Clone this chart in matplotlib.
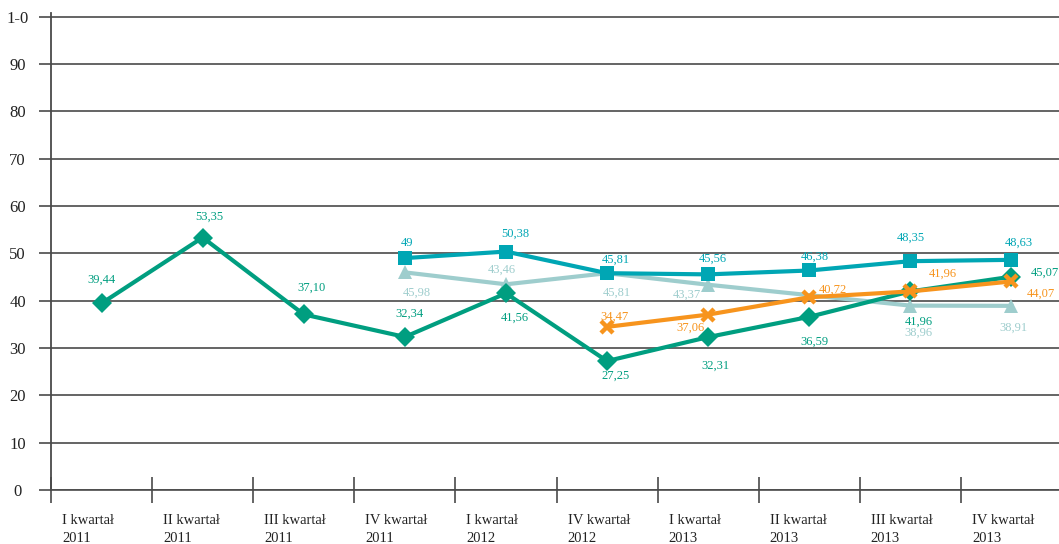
import numpy as np
import matplotlib
matplotlib.use("Agg")
import matplotlib.pyplot as plt
from matplotlib.transforms import ScaledTranslation

# ---- data ---------------------------------------------------------------- #
quarters = ["I kwartał\n2011", "II kwartał\n2011", "III kwartał\n2011",
            "IV kwartał\n2011", "I kwartał\n2012", "IV kwartał\n2012",
            "I kwartał\n2013", "II kwartał\n2013", "III kwartał\n2013",
            "IV kwartał\n2013"]
nan = np.nan
s_diamond  = [39.44, 53.35, 37.10, 32.34, 41.56, 27.25, 32.31, 36.59, 41.96, 45.07]
s_square   = [nan, nan, nan, 49.00, 50.38, 45.81, 45.56, 46.38, 48.35, 48.63]
s_triangle = [nan, nan, nan, 45.98, 43.46, 45.81, 43.37, nan, 38.96, 38.91]
s_cross    = [nan, nan, nan, nan, nan, 34.47, 37.06, 40.72, 41.96, 44.07]

lab_diamond  = ["39,44", "53,35", "37,10", "32,34", "41,56", "27,25", "32,31", "36,59", "41,96", "45,07"]
lab_square   = [None, None, None, "49", "50,38", "45,81", "45,56", "46,38", "48,35", "48,63"]
lab_triangle = [None, None, None, "45,98", "43,46", "45,81", "43,37", None, "38,96", "38,91"]
lab_cross    = [None, None, None, None, None, "34,47", "37,06", "40,72", "41,96", "44,07"]

# label offsets in pixels (dx, dy)
off_diamond  = [(0, 24), (7, 21), (8, 27), (5, 23), (9, -24), (9, -15), (7, -29), (5, -25), (8, -30), (33, 4)]
off_square   = [None, None, None, (2, 15), (9, 18), (9, 13), (5, 16), (6, 14), (0, 23), (7, 17)]
off_triangle = [None, None, None, (12, -20), (-4, 15), (10, -20), (-21, -10), None, (8, -27), (2, -22)]
off_cross    = [None, None, None, None, None, (7, 10), (-18, -13), (24, 8), (32, 18), (29, -12)]

C_GREEN  = "#009E80"
C_TEAL   = "#00A6B4"
C_LIGHT  = "#9ECDCD"
C_ORANGE = "#F7941D"
GRID = "#4a4a4a"

plt.rcParams["font.family"] = ["Liberation Serif", "DejaVu Serif"]

fig = plt.figure(figsize=(10.59, 5.44), dpi=100)
ax = fig.add_axes([51 / 1059, 54 / 544, 1011 / 1059, (490 - 12.7) / 544])

x = np.arange(len(quarters))


def draw(vals, labels, offs, color, marker, ms, z, mew=0):
    v = np.array(vals, dtype=float)
    ok = ~np.isnan(v)
    ax.plot(x[ok], v[ok], color=color, lw=3, marker=marker, ms=ms,
            mew=mew, zorder=z)
    for i, (val, lab, off) in enumerate(zip(v, labels, offs)):
        if lab is None:
            continue
        ax.annotate(lab, (i, val), xytext=off, textcoords="offset pixels",
                    ha="center", va="center", fontsize=9, color=color,
                    zorder=10, annotation_clip=False)


draw(s_triangle, lab_triangle, off_triangle, C_LIGHT, "^", 10, 3)
draw(s_square, lab_square, off_square, C_TEAL, "s", 10.5, 4)
draw(s_diamond, lab_diamond, off_diamond, C_GREEN, "D", 10.5, 5)
draw(s_cross, lab_cross, off_cross, C_ORANGE, "x", 9, 6, mew=3.2)

# ---- axes ---------------------------------------------------------------- #
ax.set_xlim(-0.5, len(quarters) - 0.5)
ax.set_ylim(0, 100.85)
yt = np.arange(0, 101, 10)
ax.set_yticks(yt)
ax.set_yticklabels([str(t) for t in yt[:-1]] + ["1-0"])
ax.yaxis.grid(True, color=GRID, lw=1.2)
ax.set_axisbelow(True)
ax.tick_params(axis="y", length=9, width=1.2, color=GRID, pad=15,
               labelsize=12, labelcolor="#222222")
for lbl in ax.get_yticklabels():
    lbl.set_horizontalalignment("center")

ax.set_xticks(x - 0.5)
ax.set_xticklabels(quarters, ha="left", multialignment="left")
ax.tick_params(axis="x", direction="inout", length=19, width=1.2, color=GRID,
               pad=7.5, labelsize=10.5, labelcolor="#222222")
shift = ScaledTranslation(11 / 100, 0, fig.dpi_scale_trans)
for lbl in ax.get_xticklabels():
    lbl.set_transform(lbl.get_transform() + shift)
    lbl.set_linespacing(1.5)

for s in ["top", "right"]:
    ax.spines[s].set_visible(False)
ax.spines["left"].set_color(GRID)
ax.spines["left"].set_linewidth(1.3)
ax.spines["bottom"].set_color(GRID)
ax.spines["bottom"].set_linewidth(1.2)

fig.savefig("out.png", dpi=100)
